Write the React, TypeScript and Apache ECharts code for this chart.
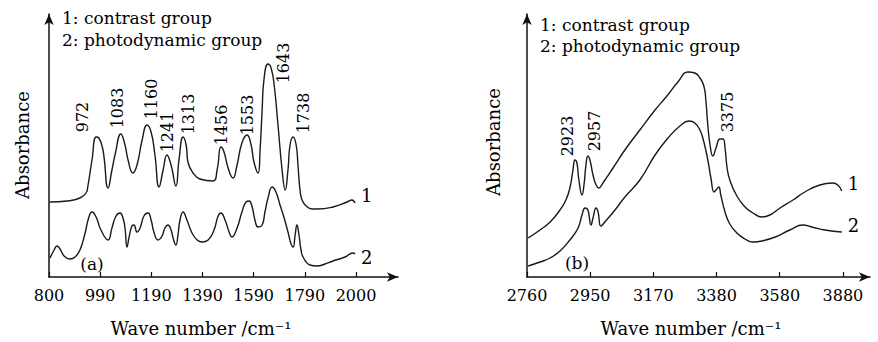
import React, { useEffect, useRef } from "react";
import * as echarts from "echarts";

// ---------- data (wave number, relative absorbance) ----------
const leftTickLabels = ["800", "990", "1190", "1390", "1590", "1790", "2000"];
const rightTickLabels = ["2760", "2950", "3170", "3380", "3580", "3880"];

const leftContrast: [number, number][] = [
  [804, 75], [870, 76], [921, 79], [945, 84], [952, 91], [968, 117], [984, 140], [995, 139],
  [1011, 127], [1031, 89], [1046, 107], [1058, 122], [1081, 143], [1097, 132], [1109, 117],
  [1128, 104], [1144, 112], [1164, 137], [1183, 152], [1199, 145], [1214, 122], [1230, 90],
  [1246, 107], [1261, 122], [1277, 112], [1296, 91], [1308, 117], [1324, 140], [1336, 132],
  [1343, 115], [1363, 104], [1390, 98], [1441, 96], [1457, 107], [1472, 130], [1484, 125],
  [1500, 109], [1519, 99], [1535, 112], [1554, 134], [1574, 142], [1590, 132], [1601, 115],
  [1617, 104], [1625, 127], [1633, 167], [1640, 197], [1656, 213], [1668, 209], [1680, 192],
  [1695, 152], [1711, 107], [1723, 87], [1734, 107], [1742, 132], [1754, 140], [1766, 132],
  [1773, 112], [1781, 87], [1789, 77], [1805, 71], [1828, 68], [1848, 68], [1910, 70],
  [1965, 75], [1984, 77], [1996, 74],
];
const leftPhotodynamic: [number, number][] = [
  [804, 19], [820, 27], [831, 31], [843, 28], [859, 21], [882, 18], [902, 20], [921, 27],
  [941, 44], [956, 60], [968, 65], [984, 60], [1003, 47], [1031, 37], [1046, 49], [1062, 61],
  [1078, 64], [1089, 59], [1097, 49], [1105, 30], [1113, 40], [1124, 51], [1132, 52],
  [1144, 45], [1156, 49], [1171, 61], [1187, 64], [1199, 57], [1210, 45], [1226, 37],
  [1242, 41], [1253, 49], [1265, 52], [1277, 47], [1285, 39], [1296, 32], [1304, 42],
  [1312, 57], [1324, 65], [1339, 57], [1359, 44], [1379, 37], [1398, 35], [1422, 37],
  [1445, 47], [1461, 61], [1472, 64], [1488, 57], [1504, 45], [1515, 40], [1535, 49],
  [1554, 65], [1570, 75], [1582, 76], [1594, 70], [1605, 57], [1617, 50], [1633, 52],
  [1644, 65], [1656, 79], [1672, 90], [1687, 85], [1703, 72], [1719, 59], [1734, 45],
  [1746, 33], [1754, 30], [1762, 42], [1769, 52], [1777, 42], [1785, 27], [1793, 20],
  [1820, 12], [1848, 11], [1879, 13], [1910, 16], [1957, 20], [1988, 24], [1996, 23],
];
const rightContrast: [number, number][] = [
  [2764, 39], [2806, 47], [2842, 55], [2877, 67], [2898, 77], [2912, 89], [2923, 107],
  [2930, 117], [2937, 114], [2944, 97], [2955, 82], [2962, 92], [2969, 112], [2976, 121],
  [2983, 117], [2994, 102], [3005, 92], [3015, 89], [3029, 94], [3065, 109], [3107, 127],
  [3160, 147], [3214, 167], [3256, 181], [3295, 195], [3331, 205], [3355, 204], [3373, 199],
  [3387, 191], [3394, 177], [3401, 152], [3409, 132], [3419, 121], [3430, 129], [3444, 138],
  [3455, 138], [3462, 129], [3469, 110], [3479, 97], [3504, 81], [3533, 70], [3561, 64],
  [3593, 60], [3621, 62], [3657, 69], [3703, 77], [3745, 85], [3798, 92], [3844, 94],
  [3862, 92], [3876, 86],
];
const rightPhotodynamic: [number, number][] = [
  [2764, 11], [2806, 15], [2842, 19], [2877, 26], [2912, 37], [2941, 49], [2955, 62],
  [2966, 69], [2976, 67], [2987, 52], [2994, 59], [3005, 69], [3012, 65], [3022, 51],
  [3036, 55], [3072, 67], [3107, 80], [3160, 97], [3214, 122], [3260, 139], [3302, 151],
  [3334, 156], [3355, 154], [3373, 147], [3387, 135], [3401, 117], [3412, 99], [3423, 85],
  [3430, 87], [3440, 90], [3447, 82], [3462, 65], [3479, 53], [3504, 44], [3533, 38],
  [3561, 35], [3593, 36], [3640, 40], [3692, 47], [3738, 52], [3770, 50], [3816, 47],
  [3876, 45],
];

// peak annotations: [label anchor x, label anchor y, text]
const leftPeaks: [number, number, string][] = [
  [929, 160, "972"], [1066, 169, "1083"], [1199, 178, "1160"], [1265, 145, "1241"],
  [1347, 163, "1313"], [1476, 152, "1456"], [1574, 162, "1553"], [1715, 214, "1643"],
  [1793, 164, "1738"],
];
const rightPeaks: [number, number, string][] = [
  [2905, 141, "2923"], [3001, 146, "2957"], [3472, 165, "3375"],
];

const legendLines = ["1: contrast group", "2: photodynamic group"];
const yTitle = "Absorbance";
const xTitle = "Wave number /cm⁻¹";

// ---------- config ----------
const FONT = '"DejaVu Serif", serif';
const INK = "#000";

const LEFT_MIN = 800, LEFT_STEP = 200, LEFT_MAX = 2164;
const RIGHT_MIN = 2760, RIGHT_STEP = 224, RIGHT_MAX = 3976;
const Y_MAX = 263;

function makeXAxis(gridIndex: number, min: number, step: number, max: number, labels: string[]) {
  const vals = labels.map((_, i) => min + i * step);
  return {
    type: "value", gridIndex, min, max,
    axisLine: { show: true, onZero: false, symbol: ["none", "arrow"], symbolSize: [7, 11], lineStyle: { color: "#111", width: 1.5 } },
    axisTick: { show: true, inside: true, length: 5, customValues: vals, lineStyle: { color: "#111", width: 1.2 } },
    axisLabel: {
      customValues: vals, margin: 10, color: INK, fontFamily: FONT, fontSize: 16,
      formatter: (v: number) => labels[Math.round((v - min) / step)] ?? "",
    },
    splitLine: { show: false },
  };
}
function makeYAxis(gridIndex: number) {
  return {
    type: "value", gridIndex, min: 0, max: Y_MAX,
    axisLine: { show: true, onZero: false, symbol: ["none", "arrow"], symbolSize: [7, 11], lineStyle: { color: "#111", width: 1.5 } },
    axisTick: { show: false }, axisLabel: { show: false }, splitLine: { show: false },
  };
}
function curve(idx: number, data: [number, number][], tag: string, offset: number[]) {
  return {
    type: "line", xAxisIndex: idx, yAxisIndex: idx, data, showSymbol: false, smooth: 0.5,
    lineStyle: { color: "#1a1a1a", width: 1.4 }, silent: true,
    endLabel: { show: true, formatter: tag, color: INK, fontFamily: FONT, fontSize: 18, distance: 6, offset },
  };
}
function peaks(idx: number, data: [number, number, string][]) {
  return {
    type: "scatter", xAxisIndex: idx, yAxisIndex: idx, symbolSize: 2, silent: true,
    data: data.map((d) => ({ value: [d[0], d[1]], name: d[2] })),
    itemStyle: { color: "rgba(0,0,0,0)" },
    label: {
      show: true, position: "inside", rotate: 90, color: INK, opacity: 1,
      textBorderWidth: 0, fontFamily: FONT, fontSize: 16,
      formatter: (p: any) => p.name,
    },
    labelLayout: { hideOverlap: false },
  };
}
function text(x: number, y: number, t: string, size: number, extra: any = {}) {
  return {
    type: "text", x, y, silent: true, ...extra,
    style: { text: t, fill: INK, fontFamily: FONT, fontSize: size, align: extra.align ?? "left", verticalAlign: "middle" },
  };
}

export default function App() {
  const ref = useRef<HTMLDivElement>(null);
  useEffect(() => {
    if (!ref.current) return;
    const chart = echarts.init(ref.current, undefined, { renderer: "svg" });
    chart.setOption({
      animation: false,
      backgroundColor: "#fff",
      grid: [
        { left: 49, right: 878 - 398, top: 14, bottom: 342 - 277 },
        { left: 527, right: 878 - 870, top: 14, bottom: 342 - 277 },
      ],
      xAxis: [
        makeXAxis(0, LEFT_MIN, LEFT_STEP, LEFT_MAX, leftTickLabels),
        makeXAxis(1, RIGHT_MIN, RIGHT_STEP, RIGHT_MAX, rightTickLabels),
      ],
      yAxis: [makeYAxis(0), makeYAxis(1)],
      series: [
        curve(0, leftContrast, "1", [0, -8]),
        curve(0, leftPhotodynamic, "2", [0, 3]),
        curve(1, rightContrast, "1", [0, -8]),
        curve(1, rightPhotodynamic, "2", [0, -7]),
        peaks(0, leftPeaks),
        peaks(1, rightPeaks),
      ],
      graphic: [
        text(62, 18, legendLines[0], 17),
        text(62, 40, legendLines[1], 17),
        text(540, 25, legendLines[0], 17),
        text(540, 46, legendLines[1], 17),
        text(92, 264, "(a)", 17, { align: "center" }),
        text(577, 263, "(b)", 17, { align: "center" }),
        text(22, 145, yTitle, 18, { align: "center", rotation: Math.PI / 2 }),
        text(493, 142, yTitle, 18, { align: "center", rotation: Math.PI / 2 }),
        text(201, 328, xTitle, 18, { align: "center" }),
        text(691, 328, xTitle, 18, { align: "center" }),
      ],
    });
    return () => chart.dispose();
  }, []);
  return <div ref={ref} style={{ position: "absolute", left: 0, top: 0, width: 878, height: 342 }} />;
}
